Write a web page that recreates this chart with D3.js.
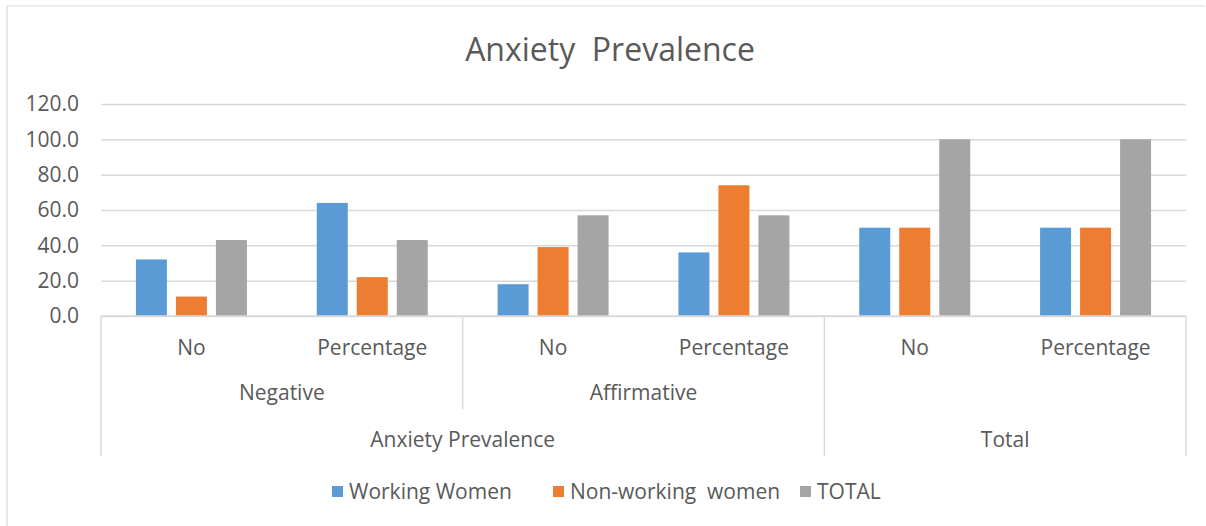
<!DOCTYPE html>
<html>
<head>
<meta charset="utf-8">
<script src="https://cdn.jsdelivr.net/npm/d3@7"></script>
<style>
  html, body { margin: 0; padding: 0; background: #fff; }
  svg { display: block; }
  text { font-family: "Open Sans", Lato, sans-serif; fill: #595959; }
</style>
</head>
<body>
<svg id="chart" width="1206" height="526"></svg>
<script>
const title = "Anxiety  Prevalence";
const categories = ["No", "Percentage", "No", "Percentage", "No", "Percentage"];
const subGroups = ["Negative", "Negative", "Affirmative", "Affirmative", "", ""];
const topGroups = ["Anxiety Prevalence", "Anxiety Prevalence", "Anxiety Prevalence", "Anxiety Prevalence", "Total", "Total"];
const seriesNames = ["Working Women", "Non-working  women", "TOTAL"];
const workingWomen = [32, 64, 18, 36, 50, 50];
const nonWorkingWomen = [11, 22, 39, 74, 50, 50];
const totalValues = [43, 43, 57, 57, 100, 100];
const yTicks = [0, 20, 40, 60, 80, 100, 120];
const colors = ["#5b9bd5", "#ed7d31", "#a5a5a5"];

const seriesValues = [workingWomen, nonWorkingWomen, totalValues];

const svg = d3.select("#chart");
const plot = { left: 101, right: 1186, top: 104, bottom: 316 };
const gridColor = "#d9d9d9";
const FONT = "'Open Sans', Lato, sans-serif";

// chart border (top + left visible)
svg.append("line").attr("x1", 7).attr("x2", 1205).attr("y1", 6).attr("y2", 6)
  .attr("stroke", gridColor).attr("stroke-width", 1.2);
svg.append("line").attr("x1", 7).attr("x2", 7).attr("y1", 6).attr("y2", 526)
  .attr("stroke", gridColor).attr("stroke-width", 1.2);

// title
svg.append("text")
  .attr("x", 610).attr("y", 61)
  .attr("text-anchor", "middle")
  .attr("font-size", 32)
  .style("white-space", "pre")
  .attr("xml:space", "preserve")
  .text(title);

const x0 = d3.scaleBand().domain(d3.range(categories.length))
  .range([plot.left, plot.right]).paddingInner(0).paddingOuter(0);
const x1 = d3.scaleBand().domain(d3.range(seriesNames.length))
  .range([0, 111]).paddingInner(0.225).paddingOuter(0);
const y = d3.scaleLinear().domain([0, 120]).range([plot.bottom, plot.top]);

// gridlines
const grid = svg.append("g")
  .attr("transform", `translate(${plot.left},0)`)
  .call(d3.axisLeft(y).tickValues(yTicks).tickSize(-(plot.right - plot.left)).tickFormat(""));
grid.select(".domain").remove();
grid.selectAll("line").attr("stroke", gridColor).attr("stroke-width", 1.5);

// y axis labels
const yAxis = svg.append("g")
  .attr("transform", `translate(${plot.left},0)`)
  .call(d3.axisLeft(y).tickValues(yTicks).tickSize(0).tickPadding(22).tickFormat(d3.format(".1f")));
yAxis.select(".domain").remove();
yAxis.selectAll("text").attr("font-size", 21).attr("fill", "#595959")
  .style("font-family", FONT);

// bars
const groups = svg.append("g").selectAll("g")
  .data(categories.map((c, i) => i))
  .join("g")
  .attr("transform", i => `translate(${x0(i) + (x0.bandwidth() - 111) / 2},0)`);
groups.selectAll("rect")
  .data(i => seriesValues.map((vals, s) => ({ s, v: vals[i] })))
  .join("rect")
  .attr("x", d => x1(d.s))
  .attr("width", x1.bandwidth())
  .attr("y", d => y(d.v))
  .attr("height", d => y(0) - y(d.v))
  .attr("fill", d => colors[d.s]);

// x axis baseline
svg.append("line").attr("x1", plot.left).attr("x2", plot.right)
  .attr("y1", plot.bottom).attr("y2", plot.bottom)
  .attr("stroke", gridColor).attr("stroke-width", 1.5);

// category labels
svg.append("g").selectAll("text")
  .data(categories)
  .join("text")
  .attr("x", (d, i) => x0(i) + x0.bandwidth() / 2)
  .attr("y", 355)
  .attr("text-anchor", "middle")
  .attr("font-size", 21)
  .text(d => d);

function spans(arr) {
  const out = [];
  arr.forEach((v, i) => {
    if (out.length && out[out.length - 1].label === v) out[out.length - 1].end = i;
    else out.push({ label: v, start: i, end: i });
  });
  return out;
}
const subSpans = spans(subGroups.map((g, i) => topGroups[i] + "|" + g));
const topSpans = spans(topGroups);

const yTopEnd = 456, ySubEnd = 409;
const topBounds = new Set();
topSpans.forEach(s => { topBounds.add(s.start); topBounds.add(s.end + 1); });
const subBounds = new Set();
subSpans.forEach(s => { subBounds.add(s.start); subBounds.add(s.end + 1); });
const boundX = i => i >= categories.length ? plot.right : x0(i);
const sepG = svg.append("g");
Array.from(subBounds).forEach(b => {
  sepG.append("line")
    .attr("x1", boundX(b)).attr("x2", boundX(b))
    .attr("y1", plot.bottom).attr("y2", topBounds.has(b) ? yTopEnd : ySubEnd)
    .attr("stroke", gridColor).attr("stroke-width", 1.5);
});

// sub group labels
svg.append("g").selectAll("text")
  .data(subSpans.filter(s => s.label.split("|")[1] !== ""))
  .join("text")
  .attr("x", s => (boundX(s.start) + boundX(s.end + 1)) / 2)
  .attr("y", 400)
  .attr("text-anchor", "middle")
  .attr("font-size", 21)
  .text(s => s.label.split("|")[1]);

// top group labels
svg.append("g").selectAll("text")
  .data(topSpans)
  .join("text")
  .attr("x", s => (boundX(s.start) + boundX(s.end + 1)) / 2)
  .attr("y", 447)
  .attr("text-anchor", "middle")
  .attr("font-size", 21)
  .text(s => s.label);

// legend
const legendX = [332, 553, 800];
const legend = svg.append("g").selectAll("g")
  .data(seriesNames)
  .join("g")
  .attr("transform", (d, i) => `translate(${legendX[i]},486)`);
legend.append("rect").attr("width", 11).attr("height", 11)
  .attr("fill", (d, i) => colors[i]);
legend.append("text").attr("x", 17).attr("y", 12.5)
  .attr("font-size", 21)
  .attr("xml:space", "preserve")
  .style("white-space", "pre")
  .text(d => d);
</script>
</body>
</html>
